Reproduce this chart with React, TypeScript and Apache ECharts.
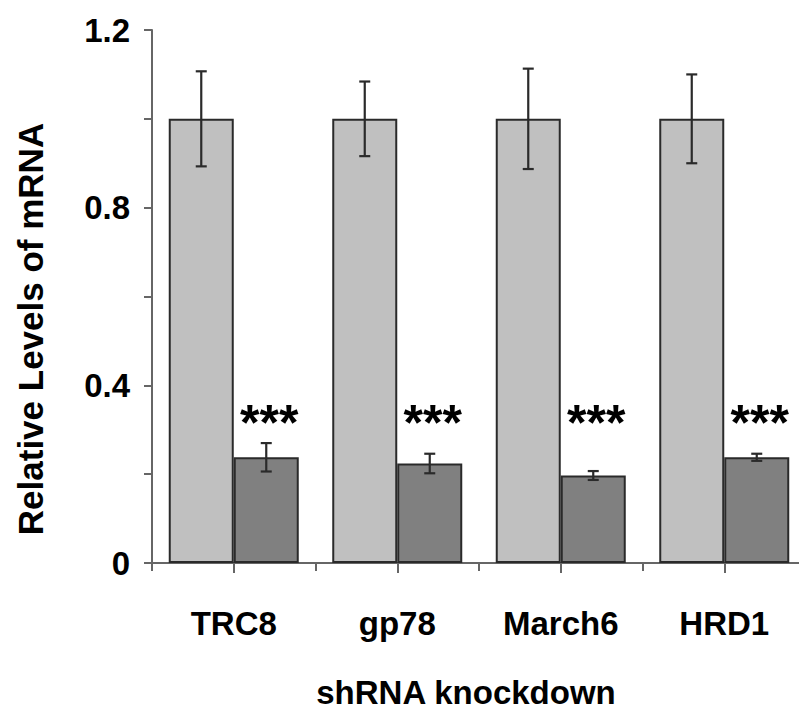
import React, { useEffect, useRef } from "react";
import * as echarts from "echarts";

// Relative mRNA levels after shRNA knockdown (control vs. knockdown)
const categories = ["TRC8", "gp78", "March6", "HRD1"];
const controlMeans = [1.0, 1.0, 1.0, 1.0];
const controlErrors = [0.107, 0.084, 0.113, 0.1];
const knockdownMeans = [0.238, 0.224, 0.197, 0.238];
const knockdownErrors = [0.032, 0.022, 0.01, 0.008];
const significance = ["***", "***", "***", "***"];
const significanceLevel = 0.315;
const yTickLabels = ["0", "0.4", "0.8", "1.2"];

const FONT = "'Liberation Sans', Arial, Helvetica, sans-serif";
const BAR_WIDTH = 65;
// The plot runs slightly past the right edge of the visible frame
const CHART_WIDTH = 807;

function errorSeries(means: number[], errors: number[], offset: number) {
  return {
    type: "custom",
    xAxisIndex: 0,
    yAxisIndex: 0,
    z: 10,
    data: means.map((m, i) => [i, m, errors[i]]),
    renderItem: (_params: any, api: any) => {
      const i = api.value(0);
      const m = api.value(1);
      const e = api.value(2);
      const top = api.coord([i, m + e]);
      const bot = api.coord([i, m - e]);
      const x = top[0] + offset;
      const cap = 5.5;
      const style = { stroke: "#2a2a2a", lineWidth: 2.2 };
      return {
        type: "group",
        children: [
          { type: "line", shape: { x1: x, y1: top[1], x2: x, y2: bot[1] }, style },
          { type: "line", shape: { x1: x - cap, y1: top[1], x2: x + cap, y2: top[1] }, style },
          { type: "line", shape: { x1: x - cap, y1: bot[1], x2: x + cap, y2: bot[1] }, style },
        ],
      };
    },
  };
}

export default function App() {
  const ref = useRef<HTMLDivElement>(null);

  useEffect(() => {
    if (!ref.current) return;
    const chart = echarts.init(ref.current, null, { renderer: "svg" });

    const option: any = {
      animation: false,
      backgroundColor: "#ffffff",
      grid: { left: 152, right: 1, top: 30, bottom: 146 },
      xAxis: [
        {
          type: "category",
          data: categories,
          position: "bottom",
          axisLine: { show: true, lineStyle: { color: "#666666", width: 2 } },
          axisTick: { show: true, length: 8, lineStyle: { color: "#666666", width: 2 } },
          axisLabel: {
            margin: 44,
            fontSize: 33,
            fontWeight: "bold",
            fontFamily: FONT,
            color: "#000000",
          },
        },
        {
          type: "category",
          data: categories,
          position: "bottom",
          axisLine: { show: false },
          axisTick: {
            show: true,
            alignWithLabel: true,
            length: 10,
            lineStyle: { color: "#666666", width: 2 },
          },
          axisLabel: { show: false },
        },
      ],
      yAxis: {
        type: "value",
        min: 0,
        max: 1.2,
        interval: 0.2,
        axisLine: { show: true, lineStyle: { color: "#666666", width: 2 } },
        axisTick: { show: true, length: 8, lineStyle: { color: "#666666", width: 2 } },
        splitLine: { show: false },
        axisLabel: {
          margin: 22,
          fontSize: 33,
          fontWeight: "bold",
          fontFamily: FONT,
          color: "#000000",
          formatter: (v: number) => {
            const s = String(+v.toFixed(1));
            return yTickLabels.includes(s) ? s : "";
          },
        },
      },
      series: [
        {
          type: "bar",
          name: "Control",
          xAxisIndex: 0,
          data: controlMeans,
          barWidth: BAR_WIDTH,
          barGap: "0%",
          itemStyle: { color: "#c0c0c0", borderColor: "#2a2a2a", borderWidth: 2 },
        },
        {
          type: "bar",
          name: "Knockdown",
          xAxisIndex: 0,
          data: knockdownMeans,
          barWidth: BAR_WIDTH,
          barGap: "0%",
          itemStyle: { color: "#808080", borderColor: "#2a2a2a", borderWidth: 2 },
        },
        errorSeries(controlMeans, controlErrors, -BAR_WIDTH / 2),
        errorSeries(knockdownMeans, knockdownErrors, BAR_WIDTH / 2),
        {
          type: "custom",
          xAxisIndex: 0,
          yAxisIndex: 0,
          z: 11,
          data: significance.map((s, i) => [i, significanceLevel, s]),
          renderItem: (params: any, api: any) => {
            const i = api.value(0);
            const p = api.coord([i, api.value(1)]);
            return {
              type: "text",
              x: p[0] + BAR_WIDTH / 2 + 3,
              y: p[1],
              style: {
                text: significance[params.dataIndex],
                fontSize: 50,
                fontWeight: "bold",
                fontFamily: FONT,
                fill: "#000000",
                align: "center",
                verticalAlign: "middle",
              },
            };
          },
        },
      ],
      graphic: [
        {
          type: "text",
          x: 466,
          y: 692,
          style: {
            text: "shRNA knockdown",
            fontSize: 33,
            fontWeight: "bold",
            fontFamily: FONT,
            fill: "#000000",
            align: "center",
            verticalAlign: "middle",
          },
        },
        {
          type: "text",
          x: 30,
          y: 329,
          rotation: Math.PI / 2,
          style: {
            text: "Relative Levels of mRNA",
            fontSize: 35,
            fontWeight: "bold",
            fontFamily: FONT,
            fill: "#000000",
            align: "center",
            verticalAlign: "middle",
          },
        },
      ],
    };

    chart.setOption(option);
    return () => chart.dispose();
  }, []);

  return (
    <div
      style={{
        position: "fixed",
        left: 0,
        top: 0,
        width: 799,
        height: 709,
        overflow: "hidden",
        background: "#fff",
      }}
    >
      <div ref={ref} style={{ width: CHART_WIDTH, height: 709 }} />
    </div>
  );
}
